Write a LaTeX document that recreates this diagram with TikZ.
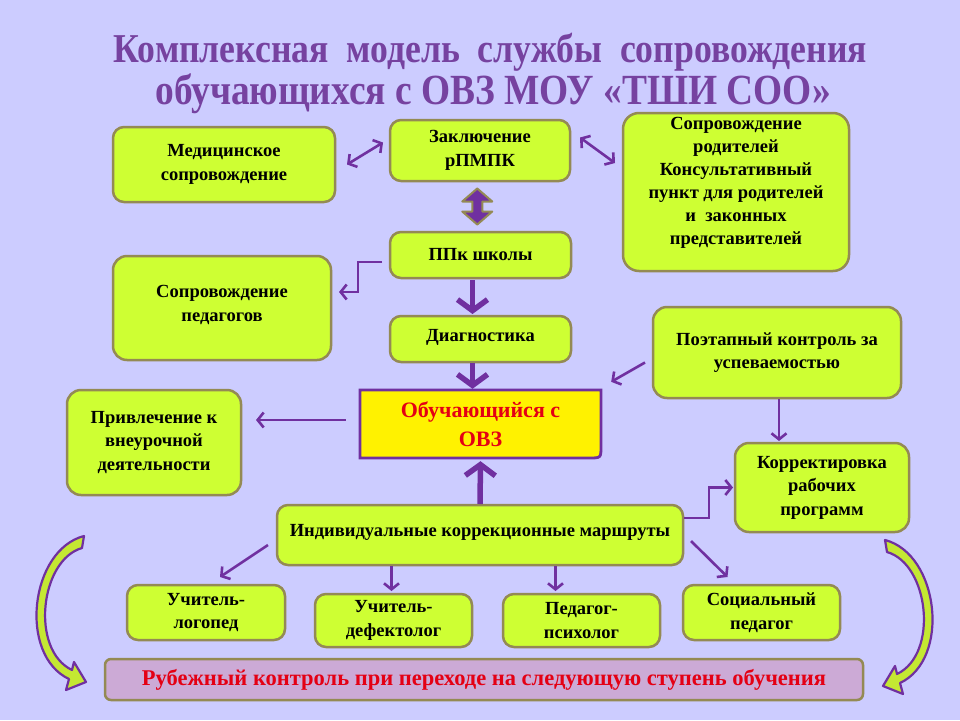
\documentclass[tikz,border=0pt]{standalone}
\usepackage{fontspec}
\setmainfont{Liberation Serif}
\newfontfamily\titlefont[FakeStretch=0.87]{Liberation Serif}
\usetikzlibrary{arrows.meta,calc}
\definecolor{bg}{RGB}{204,204,255}
\definecolor{lime}{RGB}{206,255,51}
\definecolor{khaki}{RGB}{148,138,84}
\definecolor{purp}{RGB}{112,48,160}
\definecolor{ttl}{RGB}{118,66,160}
\definecolor{rub}{RGB}{204,170,214}
\definecolor{redt}{RGB}{228,0,20}
\definecolor{arrlime}{RGB}{196,232,50}
\begin{document}
\begin{tikzpicture}[x=1pt,y=-1pt,
  box/.style={draw=khaki, fill=lime, line width=2.5pt, rounded corners=11pt,
    inner sep=0pt, outer sep=0pt, align=center,
    font=\fontsize{18.5}{23.5}\selectfont\bfseries},
  btxt/.style={align=center, inner sep=0pt, font=\fontsize{18.5}{23.5}\selectfont\bfseries},
  thinarr/.style={draw=purp, line width=2.6pt, -{Straight Barb[length=6pt,width=15pt]}},
  dblarr/.style={draw=purp, line width=2.6pt, {Straight Barb[length=6pt,width=15pt]}-{Straight Barb[length=6pt,width=15pt]}},
  thickarr/.style={draw=purp, line width=5.5pt, -{Straight Barb[length=11pt,width=30pt]}},
  carrow/.style={fill=arrlime, draw=purp, line width=2.2pt, line join=round},
  ttext/.style={anchor=base, inner sep=0pt, text=ttl, font=\titlefont\fontsize{41}{41}\selectfont\bfseries}
]
\useasboundingbox (0,0) rectangle (960,720);
\fill[bg] (0,0) rectangle (960,720);

% title
\node[ttext] (t1) at (490.5,62) {Комплексная \ модель \ службы \ сопровождения};
\node[ttext, font=\titlefont\fontsize{43}{43}\selectfont\bfseries] (t2) at (493,104) {обучающихся с ОВЗ МОУ «ТШИ СОО»};

% boxes
\node[box, minimum width=222pt, minimum height=75pt] (med) at (224,164.5) {Медицинское\\сопровождение};
\node[box, minimum width=180pt, minimum height=61pt] (zakl) at (480,150.5) {Заключение\\рПМПК};
\node[box, minimum width=226pt, minimum height=158pt, rounded corners=16pt] (rod) at (736,192) {};
\node[btxt, font=\fontsize{18.5}{23}\selectfont\bfseries] (rodtxt) at (736,183) {Сопровождение\\родителей\\Консультативный\\пункт для родителей\\и \ законных\\представителей};
\node[box, minimum width=181pt, minimum height=46pt] (ppk) at (480.5,255) {ППк школы};
\node[box, minimum width=218pt, minimum height=104pt, rounded corners=14pt] (ped) at (222,308) {};
\node[btxt] (pedtxt) at (222,305) {Сопровождение\\педагогов};
\node[box, minimum width=181pt, minimum height=46pt] (diag) at (480.5,339) {};
\node[btxt] (diagtxt) at (480.5,337) {Диагностика};
\node[box, minimum width=248pt, minimum height=91pt, rounded corners=14pt] (poet) at (777,352.5) {Поэтапный контроль за\\успеваемостью};
\node[box, minimum width=174pt, minimum height=105pt, rounded corners=14pt] (priv) at (154,442.5) {Привлечение к\\внеурочной\\деятельности};
\node[box, minimum width=174pt, minimum height=89pt, rounded corners=14pt] (korr) at (822,487.5) {Корректировка\\рабочих\\программ};
\node[box, minimum width=406pt, minimum height=60pt] (ind) at (480,535) {};
\node[btxt] (indtxt) at (480,532) {Индивидуальные коррекционные маршруты};
\node[box, minimum width=158pt, minimum height=55pt] (log) at (206,612.5) {Учитель-\\логопед};
\node[box, minimum width=157pt, minimum height=53pt] (def) at (393.5,620.5) {Учитель-\\дефектолог};
\node[box, minimum width=157pt, minimum height=53pt] (psy) at (581.5,620.5) {Педагог-\\психолог};
\node[box, minimum width=157pt, minimum height=55pt] (soc) at (761.5,612.5) {Социальный\\педагог};
\node[box, fill=rub, minimum width=758pt, minimum height=41pt, rounded corners=6pt,
  text=redt, font=\fontsize{22.5}{24}\selectfont\bfseries] (rub) at (484,679.5)
  {Рубежный контроль при переходе на следующую ступень обучения};

% central yellow box
\draw[fill=yellow, draw=purp, line width=2.8pt] (360,390) -- (601,390) -- (601,446)
  .. controls (601,458) .. (589,458) -- (360,458) -- cycle;
\node[inner sep=0pt, minimum width=241pt, minimum height=68pt, align=center, text=redt,
  font=\fontsize{22}{29}\selectfont\bfseries] (obu) at (480.5,424) {Обучающийся с\\ОВЗ};

% connectors
\draw[dblarr] ($(med.east)+(12,0)$) -- ($(zakl.west)+(-7,-8)$);
\draw[dblarr] ($(zakl.east)+(10,-13)$) -- ($(rod.west)+(-8,-29)$);
\begin{scope}[shift={($(zakl.south)!0.5!(ppk.north)+(-3,0)$)}]
  \draw[fill=purp, draw=khaki, line width=2pt, line join=round]
    (0,-18) -- (15,-5) -- (5,-5) -- (5,5) -- (15,5) -- (0,18) -- (-15,5) -- (-5,5)
    -- (-5,-5) -- (-15,-5) -- cycle;
\end{scope}
\draw[thinarr] ($(ppk.west)+(-8,7)$) -- ++(-24,0) |- ($(ped.east)+(8,-16)$);
\draw[thickarr] ($(ppk.south)+(-8,2)$) -- ($(diag.north)+(-8,-2)$);
\draw[thickarr] ($(diag.south)+(-8,1)$) -- ($(obu.north)+(-8,-1)$);
\draw[thinarr] ($(poet.west)+(-8,10)$) -- ($(obu.north east)+(10,-8)$);
\draw[thinarr] ($(poet.south)+(2,1)$) -- ($(poet.south |- korr.north)+(2,-2)$);
\draw[thinarr] ($(obu.west)+(-14,-4)$) -- ($(priv.east |- obu.west)+(15,-4)$);
\draw[thickarr] ($(ind.north)+(0,-1)$) -- ($(obu.south)+(0,3)$);
\draw[thinarr] ($(ind.east)+(1,-17)$) -- ++(25,0) |- ($(korr.west)+(-2,0)$);
\draw[thinarr] ($(ind.west)+(-9,10)$) -- ($(log.north)+(14,-8)$);
\draw[thinarr] ($(def.north |- ind.south)+(-2,1)$) -- ($(def.north)+(-2,-3)$);
\draw[thinarr] ($(psy.north |- ind.south)+(-26,1)$) -- ($(psy.north)+(-26,-3)$);
\draw[thinarr] ($(ind.east)+(8,6)$) -- ($(soc.north)+(-34,-8)$);

% curved block arrows
\draw[carrow] (84,536) .. controls (30,550) and (18,655) .. (69,679) -- (66,690)
  -- (86,682) -- (74,662) -- (72,670) .. controls (30,650) and (40,560) .. (82,548) -- cycle;
\draw[carrow] (885,540) .. controls (939,554) and (951,659) .. (900,683) -- (903,694)
  -- (883,686) -- (895,666) -- (897,674) .. controls (939,654) and (929,564) .. (887,552) -- cycle;
\end{tikzpicture}
\end{document}
